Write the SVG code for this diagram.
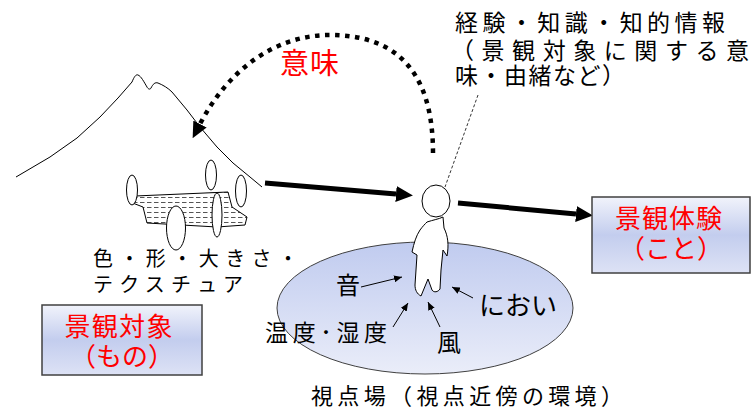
<svg xmlns="http://www.w3.org/2000/svg" width="751" height="411" viewBox="0 0 751 411">
  <style>
    text { font-family: "Noto Sans CJK JP", "Noto Sans", sans-serif; fill: #000; }
    .red { fill: #ff0000; }
    .outline { fill: none; stroke: #000; stroke-width: 1; }
    .thick { fill: none; stroke: #000; stroke-width: 5; }
    .thin { fill: none; stroke: #000; stroke-width: 1; }
    .box { stroke: #404040; stroke-width: 1.5; fill: url(#boxFill); }
  </style>
  <defs>
    <linearGradient id="boxFill" x1="0" y1="0" x2="0" y2="1">
      <stop offset="0" stop-color="#f1f3fb"/>
      <stop offset="0.5" stop-color="#c3cdee"/>
      <stop offset="1" stop-color="#dde2f5"/>
    </linearGradient>
    <linearGradient id="fieldFill" x1="0" y1="0" x2="0" y2="1">
      <stop offset="0" stop-color="#c0cbef"/>
      <stop offset="1" stop-color="#eaedf9"/>
    </linearGradient>
    <pattern id="dashes" width="7" height="5" patternUnits="userSpaceOnUse">
      <rect width="7" height="5" fill="#fff"/>
      <line x1="0" y1="2.5" x2="4.5" y2="2.5" stroke="#555" stroke-width="1"/>
    </pattern>
    <marker id="bigHead" viewBox="0 0 17 16" refX="0" refY="8" markerWidth="17" markerHeight="16" markerUnits="userSpaceOnUse" orient="auto">
      <path d="M0,0 L17,8 L0,16 Z" fill="#000"/>
    </marker>
    <marker id="arcHead" viewBox="0 0 16 15" refX="0" refY="7.5" markerWidth="16" markerHeight="15" markerUnits="userSpaceOnUse" orient="auto">
      <path d="M0,0 L16,7.5 L0,15 Z" fill="#000"/>
    </marker>
    <marker id="smallHead" viewBox="0 0 8 7" refX="8" refY="3.5" markerWidth="8" markerHeight="7" markerUnits="userSpaceOnUse" orient="auto">
      <path d="M0,0 L8,3.5 L0,7 Z" fill="#000"/>
    </marker>
  </defs>

  <rect width="751" height="411" fill="#fff"/>

  <!-- mountain silhouette -->
  <g id="mountain">
    <path class="outline" d="M16,177 L50,157 L77,138 L100,117 L118,98 L125,90 L132,82 C134,77 136,74 138,75 C141,76 144,82 147,87 C148,89 150,90 151,88 C153,84 155,82 158,83 C163,85 168,88 172,92 L187,110 L200,127 L217,147 L233,163 L250,177 L262,187"/>
  </g>

  <!-- scenery objects: water body and trees -->
  <g id="scenery">
    <path d="M135,196 L228,192 L232,207 L247,217 L245,225 L217,227 L147,223 L143,207 L130,202 Z" fill="url(#dashes)" stroke="#000" stroke-width="1"/>
    <ellipse cx="132" cy="190" rx="5.5" ry="15" fill="#fff" stroke="#000"/>
    <ellipse cx="211" cy="175" rx="5.5" ry="15" fill="#fff" stroke="#000"/>
    <ellipse cx="241" cy="191" rx="5.5" ry="16" fill="#fff" stroke="#000"/>
    <ellipse cx="217" cy="215" rx="5" ry="22" fill="#fff" stroke="#000"/>
    <ellipse cx="176" cy="228" rx="9.5" ry="22" fill="#fff" stroke="#000"/>
  </g>

  <!-- viewpoint field -->
  <g id="field">
    <ellipse cx="425" cy="308" rx="148" ry="66" fill="url(#fieldFill)" stroke="#404040" stroke-width="1"/>
  </g>

  <!-- viewer -->
  <g id="viewer">
    <ellipse cx="436" cy="201" rx="14" ry="16" fill="#fff" stroke="#000"/>
    <path d="M427,222 C433,220 439,219 443,217 L444,228 C448,236 449,245 447,256 L443,250 L441,270 L440,289 C438,292 434,293 432,290 L428,279 L421,296 C417,294 415,290 415,285 L417,255 L412,252 C414,243 416,236 420,230 C423,226 425,224 427,222 Z" fill="#fff" stroke="#000" stroke-width="1"/>
  </g>

  <!-- connectors -->
  <g id="connectors">
    <path d="M433,153 C433,70 395,35 330,35 C275,35 228,70 200,124" fill="none" stroke="#000" stroke-width="4.5" stroke-dasharray="4.5 5.5" marker-end="url(#arcHead)"/>
    <line class="thick" x1="265" y1="183" x2="396" y2="194" marker-end="url(#bigHead)"/>
    <line class="thick" x1="458" y1="203" x2="576" y2="214" marker-end="url(#bigHead)"/>
    <line x1="478" y1="95" x2="445" y2="187" stroke="#000" stroke-width="0.8" stroke-dasharray="3 2"/>
    <line class="thin" x1="361" y1="287" x2="402" y2="277" marker-end="url(#smallHead)"/>
    <line class="thin" x1="473" y1="298" x2="452" y2="287" marker-end="url(#smallHead)"/>
    <line class="thin" x1="393" y1="327" x2="408" y2="303" marker-end="url(#smallHead)"/>
    <line class="thin" x1="440" y1="327" x2="428" y2="302" marker-end="url(#smallHead)"/>
  </g>

  <!-- meaning label -->
  <g id="meaning">
    <text class="red" x="280" y="74" font-size="29" textLength="59" lengthAdjust="spacing">意味</text>
  </g>

  <!-- knowledge label -->
  <g id="knowledge">
    <text font-size="23">
      <tspan x="455" y="31" textLength="270" lengthAdjust="spacing">経験・知識・知的情報</tspan>
      <tspan x="451" y="59" textLength="298" lengthAdjust="spacing">（景観対象に関する意</tspan>
      <tspan x="455" y="84" textLength="170" lengthAdjust="spacing">味・由緒など）</tspan>
    </text>
  </g>

  <!-- attributes of the object -->
  <g id="attributes">
    <text font-size="20">
      <tspan x="93" y="266" textLength="205" lengthAdjust="spacing">色・形・大きさ・</tspan>
      <tspan x="93" y="292" textLength="150" lengthAdjust="spacing">テクスチュア</tspan>
    </text>
  </g>

  <!-- senses in the field -->
  <g id="senses">
    <text x="336" y="294" font-size="24">音</text>
    <text x="479" y="315" font-size="26" textLength="78" lengthAdjust="spacing">におい</text>
    <text x="265" y="341" font-size="23" textLength="122" lengthAdjust="spacing">温度･湿度</text>
    <text x="437" y="351" font-size="24">風</text>
  </g>

  <g id="field-label">
    <text x="311" y="404" font-size="22" textLength="312" lengthAdjust="spacing">視点場（視点近傍の環境）</text>
  </g>

  <!-- object box -->
  <g id="object-box">
    <rect class="box" x="42" y="305" width="160" height="70"/>
    <text class="red" font-size="26" text-anchor="middle">
      <tspan x="122" y="336" textLength="108" lengthAdjust="spacing">景観対象</tspan>
      <tspan x="122" y="366">（もの）</tspan>
    </text>
  </g>

  <!-- experience box -->
  <g id="experience-box">
    <rect class="box" x="592" y="197" width="158" height="76"/>
    <text class="red" font-size="26" text-anchor="middle">
      <tspan x="672" y="228" textLength="107" lengthAdjust="spacing">景観体験</tspan>
      <tspan x="671" y="258">（こと）</tspan>
    </text>
  </g>
</svg>
